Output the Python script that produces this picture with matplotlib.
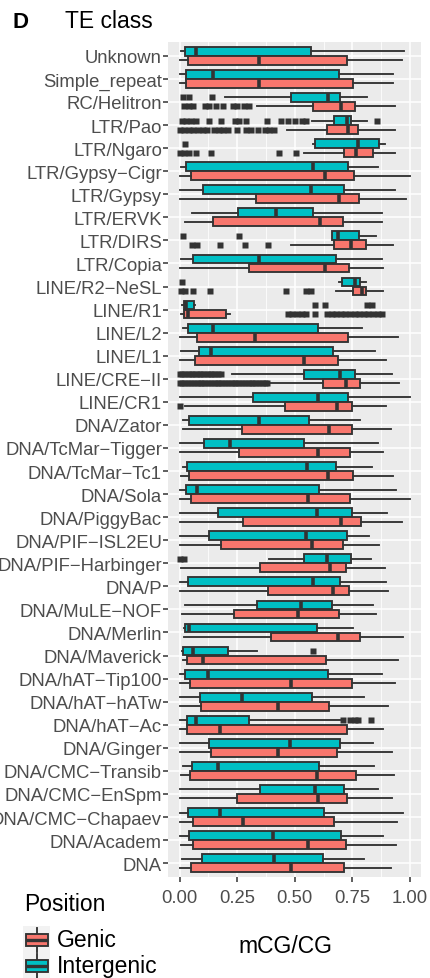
import matplotlib
matplotlib.use("Agg")
import matplotlib.pyplot as plt
from matplotlib.patches import Rectangle
from matplotlib.lines import Line2D

plt.rcParams['font.family'] = ['Liberation Sans', 'DejaVu Sans']

# TE classes, listed top to bottom
categories = [
    "Unknown", "Simple_repeat", "RC/Helitron", "LTR/Pao", "LTR/Ngaro",
    "LTR/Gypsy\u2212Cigr", "LTR/Gypsy", "LTR/ERVK", "LTR/DIRS", "LTR/Copia",
    "LINE/R2\u2212NeSL", "LINE/R1", "LINE/L2", "LINE/L1", "LINE/CRE\u2212II",
    "LINE/CR1", "DNA/Zator", "DNA/TcMar\u2212Tigger", "DNA/TcMar\u2212Tc1",
    "DNA/Sola", "DNA/PiggyBac", "DNA/PIF\u2212ISL2EU", "DNA/PIF\u2212Harbinger",
    "DNA/P", "DNA/MuLE\u2212NOF", "DNA/Merlin", "DNA/Maverick",
    "DNA/hAT\u2212Tip100", "DNA/hAT\u2212hATw", "DNA/hAT\u2212Ac", "DNA/Ginger",
    "DNA/CMC\u2212Transib", "DNA/CMC\u2212EnSpm", "DNA/CMC\u2212Chapaev",
    "DNA/Academ", "DNA",
]

# Intergenic box statistics (mCG/CG)
inter_lo = [0.005, 0.003, 0.198, 0.574, 0.581, 0.007, 0.003, 0.056, 0.660, 0.007,
            0.690, 0.012, 0.013, 0.007, 0.227, 0.003, 0.017, 0.003, 0.013, 0.003,
            0.003, 0.003, 0.390, 0.003, 0.025, 0.020, 0.010, 0.003, 0.003, 0.003,
            0.003, 0.013, 0.003, 0.003, 0.003, 0.010]
inter_q1 = [0.025, 0.029, 0.483, 0.671, 0.588, 0.027, 0.100, 0.253, 0.663, 0.058,
            0.705, 0.020, 0.036, 0.085, 0.542, 0.321, 0.042, 0.107, 0.032, 0.029,
            0.165, 0.129, 0.538, 0.036, 0.335, 0.025, 0.014, 0.025, 0.090, 0.032,
            0.126, 0.056, 0.350, 0.035, 0.042, 0.097]
inter_med = [0.072, 0.147, 0.646, 0.728, 0.776, 0.578, 0.569, 0.419, 0.686, 0.345,
             0.762, 0.030, 0.147, 0.137, 0.697, 0.603, 0.345, 0.220, 0.552, 0.075,
             0.598, 0.548, 0.642, 0.578, 0.527, 0.043, 0.058, 0.123, 0.270, 0.072,
             0.480, 0.169, 0.588, 0.176, 0.405, 0.408]
inter_q3 = [0.569, 0.694, 0.697, 0.742, 0.866, 0.733, 0.715, 0.578, 0.779, 0.678,
            0.781, 0.062, 0.603, 0.665, 0.762, 0.733, 0.564, 0.538, 0.679, 0.607,
            0.747, 0.725, 0.743, 0.697, 0.663, 0.595, 0.212, 0.646, 0.574, 0.303,
            0.697, 0.607, 0.714, 0.627, 0.701, 0.624]
inter_hi = [0.974, 0.928, 0.815, 0.815, 0.892, 0.860, 0.935, 0.877, 0.851, 0.877,
            0.808, 0.066, 0.793, 0.848, 0.923, 1.000, 0.783, 0.860, 0.837, 0.938,
            0.899, 0.824, 0.829, 0.895, 0.838, 0.754, 0.338, 0.877, 0.802, 0.697,
            0.838, 0.844, 0.860, 0.971, 0.884, 0.802]

# Genic box statistics (mCG/CG)
genic_lo = [0.003, 0.003, 0.335, 0.468, 0.538, 0.003, 0.003, 0.025, 0.484, 0.003,
            0.679, 0.005, 0.003, 0.003, 0.393, 0.025, 0.017, 0.003, 0.007, 0.003,
            0.003, 0.003, 0.007, 0.003, 0.010, 0.020, 0.014, 0.003, 0.003, 0.003,
            0.003, 0.007, 0.003, 0.003, 0.007, 0.003]
genic_q1 = [0.035, 0.029, 0.581, 0.639, 0.715, 0.051, 0.332, 0.145, 0.672, 0.303,
            0.751, 0.020, 0.078, 0.068, 0.621, 0.458, 0.270, 0.260, 0.043, 0.051,
            0.277, 0.179, 0.350, 0.382, 0.238, 0.397, 0.032, 0.046, 0.094, 0.032,
            0.136, 0.046, 0.251, 0.058, 0.058, 0.049]
genic_med = [0.347, 0.347, 0.700, 0.730, 0.766, 0.632, 0.694, 0.610, 0.744, 0.632,
             0.790, 0.037, 0.328, 0.540, 0.723, 0.682, 0.650, 0.600, 0.643, 0.556,
             0.701, 0.577, 0.653, 0.665, 0.516, 0.687, 0.104, 0.484, 0.426, 0.176,
             0.426, 0.595, 0.603, 0.277, 0.559, 0.484]
genic_q3 = [0.725, 0.754, 0.762, 0.776, 0.841, 0.759, 0.780, 0.708, 0.808, 0.736,
            0.810, 0.200, 0.730, 0.689, 0.783, 0.750, 0.747, 0.740, 0.754, 0.740,
            0.786, 0.711, 0.721, 0.736, 0.692, 0.783, 0.636, 0.750, 0.650, 0.725,
            0.682, 0.766, 0.725, 0.672, 0.721, 0.714]
genic_hi = [0.964, 0.925, 0.935, 0.935, 0.935, 1.000, 0.981, 0.877, 0.928, 0.882,
            0.881, 0.220, 0.949, 0.896, 0.952, 0.896, 0.916, 0.884, 0.928, 1.000,
            0.967, 0.867, 0.892, 0.906, 0.851, 0.971, 0.949, 0.935, 0.906, 0.882,
            0.920, 0.931, 0.923, 0.942, 0.938, 0.916]

# Outlying elements per class
inter_out = {
    "RC/Helitron": [0.015, 0.040, 0.140],
    "LTR/Pao": [0.010, 0.030, 0.050, 0.070, 0.130, 0.180, 0.240, 0.260, 0.290,
                0.380, 0.440, 0.470, 0.500, 0.530, 0.550, 0.855],
    "LTR/Ngaro": [0.025],
    "LTR/DIRS": [0.017, 0.259],
    "LINE/R2\u2212NeSL": [0.012],
    "LINE/R1": [0.590, 0.630, 0.815, 0.835],
    "LINE/CRE\u2212II": [0.000, 0.012, 0.025, 0.036, 0.048, 0.060, 0.071, 0.083,
                         0.095, 0.108, 0.120, 0.131, 0.143, 0.155, 0.167, 0.180],
    "DNA/PIF\u2212Harbinger": [0.000, 0.020],
    "DNA/Maverick": [0.581],
    "DNA/hAT\u2212Ac": [0.710, 0.740, 0.760, 0.775, 0.831],
}
genic_out = {
    "RC/Helitron": [0.020, 0.040, 0.060, 0.110, 0.130, 0.160, 0.190, 0.230,
                    0.250, 0.280, 0.300],
    "LTR/Pao": [0.000, 0.020, 0.040, 0.060, 0.080, 0.100, 0.120, 0.150, 0.170,
                0.190, 0.210, 0.250, 0.290, 0.310, 0.340, 0.370, 0.390, 0.410],
    "LTR/Ngaro": [0.000, 0.020, 0.040, 0.070, 0.137, 0.430, 0.506],
    "LTR/DIRS": [0.055, 0.075, 0.176, 0.283, 0.385],
    "LINE/R2\u2212NeSL": [0.005, 0.025, 0.060, 0.133, 0.460, 0.550, 0.570],
    "LINE/R1": [0.470, 0.490, 0.510, 0.530, 0.550, 0.590, 0.640, 0.660, 0.680,
                0.700, 0.720, 0.740, 0.760, 0.780, 0.800, 0.820, 0.840, 0.860,
                0.880],
    "LINE/CRE\u2212II": [0.000, 0.012, 0.025, 0.037, 0.050, 0.062, 0.074, 0.087,
                         0.099, 0.111, 0.124, 0.136, 0.148, 0.161, 0.173, 0.185,
                         0.198, 0.210, 0.222, 0.235, 0.247, 0.259, 0.272, 0.284,
                         0.296, 0.309, 0.321, 0.333, 0.346, 0.358, 0.370, 0.380],
    "LINE/CR1": [0.003],
}

x_ticks = [0.00, 0.25, 0.50, 0.75, 1.00]
x_ticklabels = ["0.00", "0.25", "0.50", "0.75", "1.00"]
x_minor = [0.125, 0.375, 0.625, 0.875]

GENIC_COLOR = "#F8766D"
INTER_COLOR = "#00BFC4"
EDGE = "#333333"

W, H = 430, 979
fig = plt.figure(figsize=(W / 100, H / 100), dpi=100)


def fx(x):
    return x / W


def fy(y):
    return 1 - y / H


ax = fig.add_axes([fx(168), fy(878), (421.5 - 168) / W, (878 - 43) / H])
ax.set_facecolor("#EBEBEB")

n = len(categories)
ypos = [n - i for i in range(n)]
offset = 0.195
box_w = 0.38


def make_stats(lo, q1, med, q3, hi, outs):
    res = []
    for i, cat in enumerate(categories):
        res.append(dict(whislo=lo[i], q1=q1[i], med=med[i], q3=q3[i],
                        whishi=hi[i], fliers=outs.get(cat, [])))
    return res


def draw_group(stats, positions, color):
    ax.bxp(stats, positions=positions, widths=box_w, orientation="horizontal",
           patch_artist=True, showcaps=False, manage_ticks=False,
           boxprops=dict(facecolor=color, edgecolor=EDGE, linewidth=1.35),
           medianprops=dict(color=EDGE, linewidth=2.6, solid_capstyle="butt"),
           whiskerprops=dict(color=EDGE, linewidth=1.35),
           flierprops=dict(marker="s", markerfacecolor=EDGE,
                           markeredgecolor="none", markersize=3.8))


draw_group(make_stats(inter_lo, inter_q1, inter_med, inter_q3, inter_hi, inter_out),
           [p + offset for p in ypos], INTER_COLOR)
draw_group(make_stats(genic_lo, genic_q1, genic_med, genic_q3, genic_hi, genic_out),
           [p - offset for p in ypos], GENIC_COLOR)

ax.set_xlim(-0.05, 1.05)
ax.set_ylim(0.4, n + 0.6)
ax.set_xticks(x_ticks)
ax.set_xticklabels(x_ticklabels)
ax.set_xticks(x_minor, minor=True)
ax.set_yticks(ypos)
ax.set_yticklabels(categories)

ax.set_axisbelow(True)
ax.grid(which="major", color="white", linewidth=1.1)
ax.grid(which="minor", axis="x", color="white", linewidth=0.55)
for s in ax.spines.values():
    s.set_visible(False)

ax.tick_params(axis="both", which="major", length=3.6, width=1.1, color=EDGE,
               labelcolor="#4D4D4D", labelsize=13.3)
ax.tick_params(axis="y", pad=0.8)
ax.tick_params(axis="x", pad=5)
ax.tick_params(which="minor", length=0)

# Panel title
fig.text(fx(12), fy(22), "D", fontsize=16, fontweight="bold", va="center",
         ha="left", color="black")
fig.text(fx(65), fy(22), "TE class", fontsize=16.5, va="center", ha="left",
         color="black")

# Axis title
fig.text(fx(285), fy(947), "mCG/CG", fontsize=16.5, va="center", ha="center",
         color="black")

# Legend
fig.text(fx(24), fy(905), "Position", fontsize=16.5, va="center", ha="left",
         color="black")
key_ax = fig.add_axes([fx(23), fy(979), (50 - 23) / W, (979 - 927) / H])
key_ax.set_xlim(23, 50)
key_ax.set_ylim(979, 927)
key_ax.set_facecolor("#F2F2F2")
key_ax.axis("off")
key_ax.add_patch(Rectangle((23, 927), 27, 52, facecolor="#F2F2F2",
                           edgecolor="none"))
for yc, color, label in [(940.5, GENIC_COLOR, "Genic"),
                         (966.5, INTER_COLOR, "Intergenic")]:
    key_ax.plot([37, 37], [yc - 12, yc + 12], color=EDGE, lw=1.35)
    key_ax.add_patch(Rectangle((26, yc - 6), 22, 12, facecolor=color,
                               edgecolor=EDGE, linewidth=1.35, zorder=3))
    key_ax.plot([26, 48], [yc, yc], color=EDGE, lw=2.4, zorder=4,
                solid_capstyle="butt")
    fig.text(fx(57), fy(yc), label, fontsize=16.5, va="center", ha="left",
             color="black")

fig.savefig("out.png", dpi=100)
